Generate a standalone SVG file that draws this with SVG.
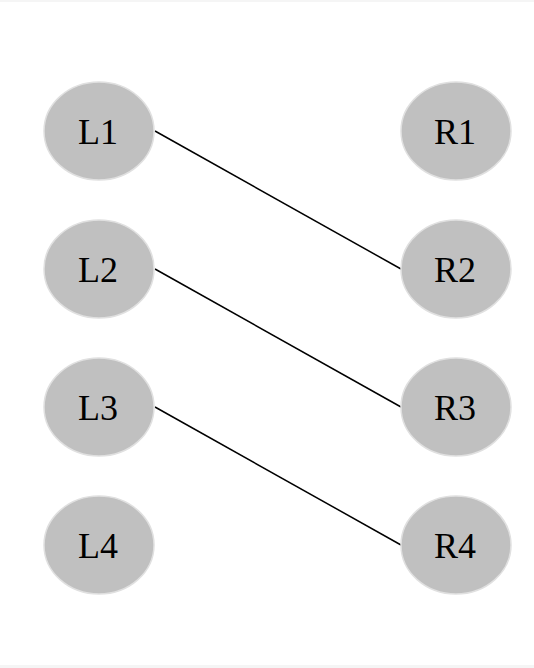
<svg xmlns="http://www.w3.org/2000/svg" width="534" height="668" viewBox="0 0 534 668">
<style>
.n ellipse{fill:#c0c0c0;stroke:#e0e0e0;stroke-width:1.5}
.n text{font-family:"Liberation Serif",serif;font-size:36px;fill:#000;text-anchor:middle}
.e line{stroke:#000;stroke-width:1.5}
</style>
<rect x="0" y="0" width="534" height="668" fill="#fff"/>
<rect x="0" y="0" width="534" height="2" fill="#f5f5f5"/>
<rect x="0" y="665" width="534" height="3" fill="#f5f5f5"/>
<g id="edges" class="e">
<line x1="155" y1="131" x2="401" y2="269"/>
<line x1="155" y1="269" x2="401" y2="407"/>
<line x1="155" y1="407" x2="401" y2="545"/>
</g>
<g id="L1" class="n"><ellipse cx="99" cy="131" rx="55" ry="49"/><text x="98" y="144">L1</text></g>
<g id="L2" class="n"><ellipse cx="99" cy="269" rx="55" ry="49"/><text x="98" y="282">L2</text></g>
<g id="L3" class="n"><ellipse cx="99" cy="407" rx="55" ry="49"/><text x="98" y="420">L3</text></g>
<g id="L4" class="n"><ellipse cx="99" cy="545" rx="55" ry="49"/><text x="98" y="558">L4</text></g>
<g id="R1" class="n"><ellipse cx="456" cy="131" rx="55" ry="49"/><text x="455" y="144">R1</text></g>
<g id="R2" class="n"><ellipse cx="456" cy="269" rx="55" ry="49"/><text x="455" y="282">R2</text></g>
<g id="R3" class="n"><ellipse cx="456" cy="407" rx="55" ry="49"/><text x="455" y="420">R3</text></g>
<g id="R4" class="n"><ellipse cx="456" cy="545" rx="55" ry="49"/><text x="455" y="558">R4</text></g>
</svg>
